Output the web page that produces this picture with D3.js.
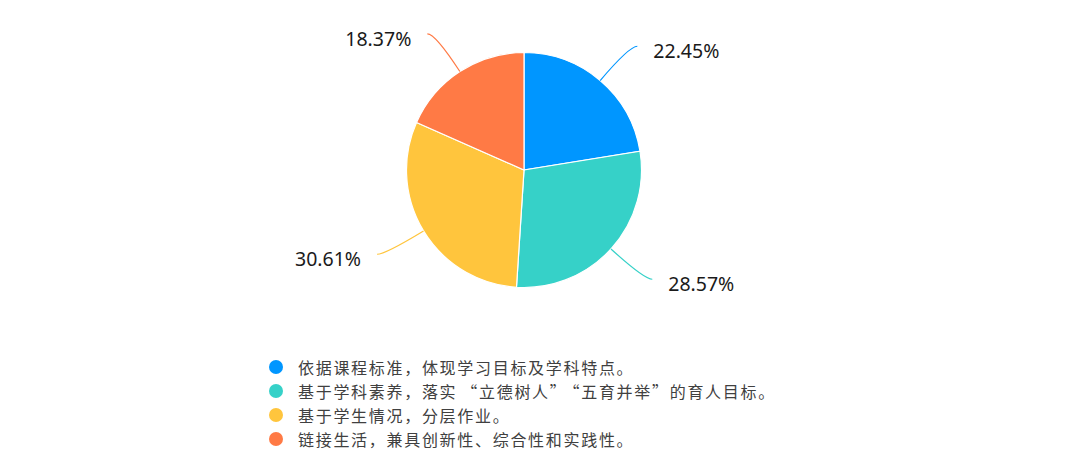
<!DOCTYPE html>
<html lang="zh-CN">
<head>
<meta charset="utf-8">
<script src="https://cdn.jsdelivr.net/npm/d3@7"></script>
<style>
html,body{margin:0;padding:0;background:#fff;}
svg{display:block;}
</style>
</head>
<body>
<svg id="chart" width="1080" height="465"></svg>
<script>
const categories = [
  "依据课程标准，体现学习目标及学科特点。",
  "基于学科素养，落实“立德树人”“五育并举”的育人目标。",
  "基于学生情况，分层作业。",
  "链接生活，兼具创新性、综合性和实践性。"
];
const values = [22.45, 28.57, 30.61, 18.37];
const valueLabels = ["22.45%", "28.57%", "30.61%", "18.37%"];
const colors = ["#0096FF", "#36D1C8", "#FFC53D", "#FF7A45"];

const svg = d3.select("#chart");
const cx = 524, cy = 170, R = 117.5;
const L1 = 45, L2 = 8;

const pie = d3.pie().sort(null).value(d => d)(values);
const arc = d3.arc().innerRadius(0).outerRadius(R);

const g = svg.append("g").attr("transform", `translate(${cx},${cy})`);
g.selectAll("path.slice").data(pie).join("path")
  .attr("class", "slice")
  .attr("d", arc)
  .attr("fill", (d, i) => colors[i])
  .attr("stroke", "#fff")
  .attr("stroke-width", 1.2);

function pt(a, r) { return [Math.sin(a) * r, -Math.cos(a) * r]; }

pie.forEach((d, i) => {
  const a = (d.startAngle + d.endAngle) / 2;
  const p0 = pt(a, R);
  const p1 = pt(a, R + L1);
  const right = Math.sin(a) >= 0;
  const p2 = [p1[0] + (right ? L2 : -L2), p1[1]];
  const path = d3.path();
  path.moveTo(p0[0], p0[1]);
  path.quadraticCurveTo(p1[0], p1[1], p2[0], p2[1]);
  g.append("path").attr("d", path.toString())
    .attr("fill", "none").attr("stroke", colors[i]).attr("stroke-width", 1.2);
  g.append("text")
    .attr("x", p2[0] + (right ? 16 : -16))
    .attr("y", p2[1] + 6.5)
    .attr("text-anchor", right ? "start" : "end")
    .attr("dominant-baseline", "middle")
    .attr("font-family", "'Noto Sans', 'Noto Sans CJK SC', sans-serif")
    .attr("font-size", 19.5)
    .attr("fill", "#1a1a1a")
    .text(valueLabels[i]);
});

const legend = svg.append("g");
const ly = d3.scalePoint().domain(d3.range(categories.length)).range([367, 439]);
categories.forEach((c, i) => {
  legend.append("circle").attr("cx", 276).attr("cy", ly(i)).attr("r", 7)
    .attr("fill", colors[i]);
  const t = legend.append("text")
    .attr("x", 298).attr("y", ly(i))
    .attr("dominant-baseline", "central")
    .attr("font-family", "'Noto Sans CJK SC', sans-serif")
    .attr("font-size", 16)
    .attr("letter-spacing", 1.7)
    .style("font-feature-settings", "'fwid'")
    .attr("fill", "#404040");
  c.split(/(?=“)/).forEach((seg, k) => {
    t.append("tspan").attr("dx", k > 0 ? 4 : 0).text(seg);
  });
});
</script>
</body>
</html>
